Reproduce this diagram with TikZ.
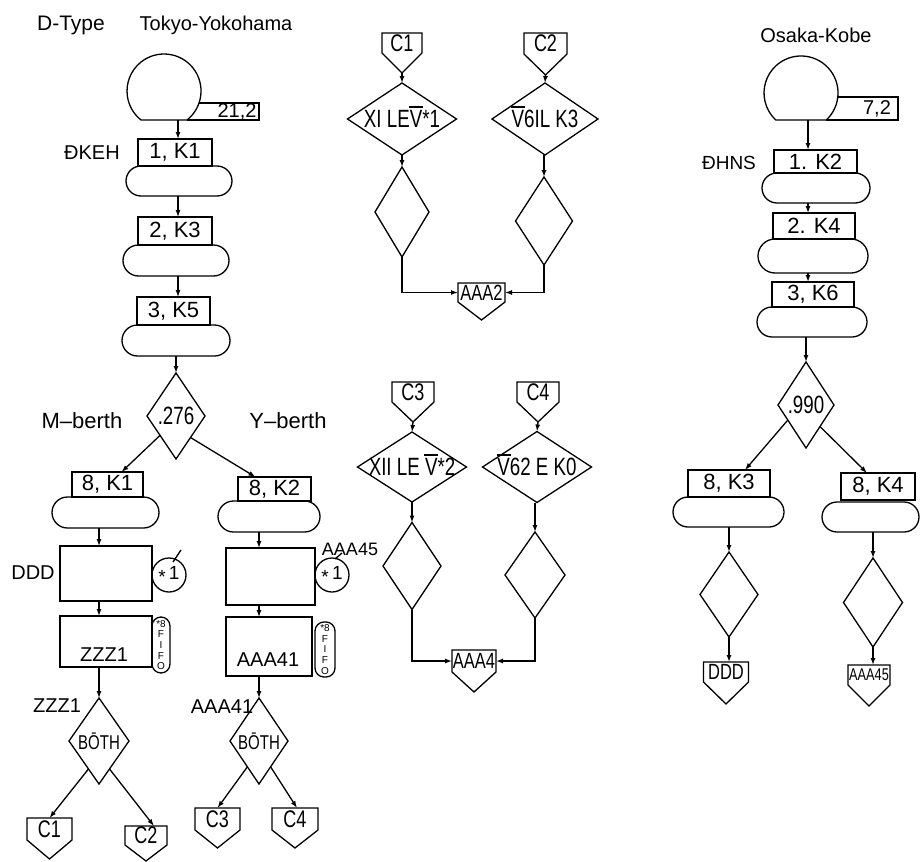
\documentclass[tikz,border=0pt]{standalone}
\usepackage{fontspec}
\setmainfont{Liberation Sans}
\newfontfamily\narrowsf{Liberation Sans}[FakeStretch=0.75]
\usetikzlibrary{arrows.meta,shapes.misc,calc}

% V with a bar on top, as written in the block operands
\newcommand\barV{\ooalign{V\cr\hidewidth\rule[0.78em]{0.55em}{0.07em}\hidewidth\cr}}

\tikzset{
  every node/.style={inner sep=0pt, outer sep=0pt},
  ln/.style={line width=1.3pt},
  arr/.style={line width=1.3pt, -{Latex[length=7pt,width=5pt]}},
  qbox/.style={draw, line width=1.3pt, rectangle, font=\fontsize{22}{24}\selectfont},
  adv/.style={draw, line width=1.3pt, rounded rectangle},
  lab/.style={font=\fontsize{20}{22}\selectfont},
  dtext/.style={rectangle, font=\narrowsf\fontsize{25}{26}\selectfont},
  ptext/.style={rectangle, font=\narrowsf\fontsize{24}{25}\selectfont},
  circ/.style={draw, line width=1.3pt, circle, minimum size=34, font=\fontsize{19}{20}\selectfont},
  fifo/.style={draw, line width=1.3pt, rectangle, rounded corners=9pt},
  fifotext/.style={align=center, font=\fontsize{10}{10.6}\selectfont},
}

% decision block: name, x, y, width, height, text
\newcommand\dianode[6]{%
  \node[dtext, minimum width=#4, minimum height=#5] (#1) at (#2,#3) {#6};
  \draw[ln] (#1.north) -- (#1.east) -- (#1.south) -- (#1.west) -- cycle;}

% off-page connector: name, x, y of label part, width, height, depth of point, text
\newcommand\offpage[7]{%
  \node[ptext, minimum width=#4, minimum height=#5] (#1) at (#2,#3) {#7};
  \coordinate (#1-tip) at ([yshift=-#6pt]#1.south);
  \draw[ln] (#1.north west) -- (#1.north east) -- (#1.south east) -- (#1-tip) -- (#1.south west) -- cycle;}

\begin{document}
\begin{tikzpicture}[x=1pt, y=-1pt]
\useasboundingbox (0,0) rectangle (921,862);

% ---------------- Tokyo-Yokohama ----------------
\node[lab, font=\fontsize{21}{22}\selectfont] (tD) at (71,25) {D-Type};
\node[lab] (tTY) at (216,25) {Tokyo-Yokohama};

\node[circle, minimum size=74] (gen1) at (164,91) {};
\draw[ln] (187,120) arc[start angle=-51.6, end angle=231.6, radius=37pt] -- cycle;
\draw[ln] (199,103) -- (259,103) -- (259,120) -- (187,120);
\node[font=\fontsize{20}{21}\selectfont] (g1val) at (237,112) {21,2};
\coordinate (gen1out) at (178,120);

\node[lab] (lDKEH) at (92,153) {ĐKEH};
\node[qbox, minimum width=74, minimum height=27] (b1) at (175,152.5) {1, K1};
\node[adv, minimum width=106, minimum height=30] (a1) at (179,181) {};
\node[qbox, minimum width=74, minimum height=28] (b2) at (175,231) {2, K3};
\node[adv, minimum width=106, minimum height=31] (a2) at (176,260.5) {};
\node[qbox, minimum width=73, minimum height=28] (b3) at (173.5,311) {3, K5};
\node[adv, minimum width=108, minimum height=31] (a3) at (176,340.5) {};
\dianode{d1}{176}{416}{58}{86}{.276}
\node[lab, font=\fontsize{22}{24}\selectfont] (lM) at (82,421) {M–berth};
\node[lab, font=\fontsize{22}{24}\selectfont] (lY) at (288,421) {Y–berth};

\draw[arr] (gen1out) -- (gen1out |- b1.north);
\draw[arr] (a1.south -| gen1out) -- (b2.north -| gen1out);
\draw[arr] (a2.south -| gen1out) -- (b3.north -| gen1out);
\draw[arr] (a3.south -| d1.north) -- (d1.north);

% M-berth branch
\node[qbox, minimum width=71, minimum height=25] (m1) at (107.5,484.5) {8, K1};
\node[adv, minimum width=107, minimum height=31] (m2) at (105.5,512.5) {};
\node[qbox, minimum width=92, minimum height=55] (m3) at (106,573.5) {};
\node[lab] (lDDD) at (33,573) {DDD};
\node[circ] (m3c) at (169,575) {\raisebox{-0.25em}{*}\,1};
\draw[ln] ($(m3c.center)+(4,-13)$) -- ++(8,-12);
\node[qbox, minimum width=92, minimum height=51] (m4) at (106,641.5) {};
\node[lab] (m4t) at (104,655) {ZZZ1};
\node[fifo, minimum width=18, minimum height=56] (m4f) at (161,645) {};
\node[fifotext] (m4ft) at (161,645) {*8\\F\\I\\F\\O};
\dianode{d2}{99}{741}{60}{86}{\fontsize{20}{21}\selectfont BŌTH}
\node[lab] (lZZZ) at (57,706) {ZZZ1};
\offpage{o1}{49.5}{829}{45}{22}{19}{C1}
\offpage{o2}{146}{835.5}{42}{19}{16}{C2}

\draw[arr] ($(d1.south)!0.55!(d1.west)$) -- ([xshift=14pt]m1.north);
\draw[arr] (m2.south -| d2.north) -- (m3.north -| d2.north);
\draw[arr] (m3.south -| d2.north) -- (m4.north -| d2.north);
\draw[arr] (m4.south -| d2.north) -- (d2.north);
\draw[arr] ($(d2.south)!0.35!(d2.west)$) -- (o1.north);
\draw[arr] ($(d2.south)!0.35!(d2.east)$) -- ([xshift=8pt]o2.north);

% Y-berth branch
\node[qbox, minimum width=73, minimum height=24] (y1) at (274.5,489) {8, K2};
\node[adv, minimum width=102, minimum height=31] (y2) at (269,516.5) {};
\node[qbox, minimum width=89, minimum height=57] (y3) at (270.5,576.5) {};
\node[circ] (y3c) at (332,575) {\raisebox{-0.25em}{*}\,1};
\node[font=\fontsize{18}{18}\selectfont] (lAAA45) at (350,549) {AAA45};
\draw[ln] ($(y3c.center)+(3,-16)$) -- ++(7,-6);
\node[qbox, minimum width=86, minimum height=59] (y4) at (269,646.5) {};
\node[lab] (y4t) at (268,660) {AAA41};
\node[fifo, minimum width=20, minimum height=55] (y4f) at (325,649.5) {};
\node[fifotext] (y4ft) at (325,649.5) {*8\\F\\I\\F\\O};
\dianode{d3}{259}{741}{58}{86}{\fontsize{20}{21}\selectfont BŌTH}
\node[lab] (lAAA41) at (222,707) {AAA41};
\offpage{o3}{217.5}{819}{45}{22}{18}{C3}
\offpage{o4}{295}{819}{46}{22}{18}{C4}

\draw[arr] ($(d1.south)!0.5!(d1.east)$) -- ([xshift=-19pt]y1.north);
\draw[arr] (y2.south -| d3.north) -- (y3.north -| d3.north);
\draw[arr] (y3.south -| d3.north) -- (y4.north -| d3.north);
\draw[arr] (y4.south -| d3.north) -- (d3.north);
\draw[arr] ($(d3.south)!0.4!(d3.west)$) -- (o3.north);
\draw[arr] ($(d3.south)!0.4!(d3.east)$) -- ([xshift=2pt]o4.north);

% ---------------- middle segments ----------------
\offpage{c1}{402}{43}{40}{20}{20}{C1}
\dianode{e1}{402}{119}{109}{72}{XI LE\barV*1}
\dianode{e2}{402}{212}{54}{90}{}
\offpage{c2}{545.5}{43.5}{43}{21}{21}{C2}
\dianode{e3}{545}{119}{106}{72}{\barV6IL K3}
\dianode{e4}{544}{221}{57}{88}{}
\offpage{p2}{481.5}{292.5}{47}{19}{18}{\fontsize{22}{23}\selectfont AAA2}

\draw[arr] (c1-tip) -- (e1.north);
\draw[arr] (e1.south) -- (e2.north);
\draw[arr] (e2.south) |- (p2.west);
\draw[arr] (c2-tip) -- (e3.north);
\draw[arr] (e3.south -| e4.north) -- (e4.north);
\draw[arr] (e4.south) |- (p2.east);

\offpage{c3}{413}{392}{42}{20}{20}{C3}
\dianode{e5}{412}{467}{109}{70}{XII LE \barV*2}
\dianode{e6}{412}{566}{58}{87}{}
\offpage{c4}{538}{392}{42}{20}{20}{C4}
\dianode{e7}{537}{467}{109}{71}{\barV62 E K0}
\dianode{e8}{535}{575}{60}{86}{}
\offpage{p4}{474}{661}{44}{22}{20}{\fontsize{22}{23}\selectfont AAA4}

\draw[arr] (c3-tip) -- (e5.north);
\draw[arr] (e5.south) -- (e6.north);
\draw[arr] (e6.south) |- (p4.west);
\draw[arr] (c4-tip) -- (e7.north);
\draw[arr] (e7.south -| e8.north) -- (e8.north);
\draw[arr] (e8.south) |- (p4.east);

% ---------------- Osaka-Kobe ----------------
\node[lab] (tOK) at (816,35) {Osaka-Kobe};
\node[circle, minimum size=74] (gen2) at (801,93) {};
\draw[ln] (826.3,120) arc[start angle=-46.9, end angle=226.9, radius=37pt] -- cycle;
\draw[ln] (837.8,97) -- (898,97) -- (898,120) -- (826.3,120);
\node[font=\fontsize{20}{21}\selectfont] (g2val) at (877,109) {7,2};
\coordinate (gen2out) at (808,120);

\node[lab, font=\fontsize{19}{20}\selectfont] (lDHNS) at (729,163) {ĐHNS};
\node[qbox, minimum width=83, minimum height=23] (r1) at (815.5,161.5) {1. K2};
\node[adv, minimum width=108, minimum height=30] (r2) at (816,188) {};
\node[qbox, minimum width=82, minimum height=26] (r3) at (814,226) {2. K4};
\node[adv, minimum width=110, minimum height=34] (r4) at (813,256) {};
\node[qbox, minimum width=82, minimum height=25] (r5) at (813,294.5) {3, K6};
\node[adv, minimum width=110, minimum height=30] (r6) at (812,322) {};
\dianode{r7}{806}{405}{56}{86}{.990}

\draw[arr] (gen2out) -- (gen2out |- r1.north);
\draw[arr] (r2.south -| gen2out) -- (r3.north -| gen2out);
\draw[arr] (r4.south -| gen2out) -- (r5.north -| gen2out);
\draw[arr] (r6.south -| r7.north) -- (r7.north);

\node[qbox, minimum width=82, minimum height=27] (s1) at (729,483.5) {8, K3};
\node[adv, minimum width=111, minimum height=30] (s2) at (728.5,512) {};
\dianode{s3}{729}{594.5}{58}{85}{}
\offpage{s4}{726}{672}{45}{20}{22}{\fontsize{22}{23}\selectfont DDD}

\node[qbox, minimum width=74, minimum height=27] (t1) at (878,486.5) {8, K4};
\node[adv, minimum width=97, minimum height=30] (t2) at (870.5,517) {};
\dianode{t3}{873}{602.5}{59}{89}{}
\offpage{t4}{869}{675}{42}{20}{21}{\fontsize{17}{18}\selectfont AAA45}

\draw[arr] ($(r7.south)!0.65!(r7.west)$) -- ([xshift=16pt]s1.north);
\draw[arr] ($(r7.south)!0.5!(r7.east)$) -- ([xshift=-11pt]t1.north);
\draw[arr] (s2.south -| s3.north) -- (s3.north);
\draw[arr] (s3.south) -- (s3.south |- s4.north);
\draw[arr] (t2.south -| t3.north) -- (t3.north);
\draw[arr] (t3.south) -- (t3.south |- t4.north);
\end{tikzpicture}
\end{document}
